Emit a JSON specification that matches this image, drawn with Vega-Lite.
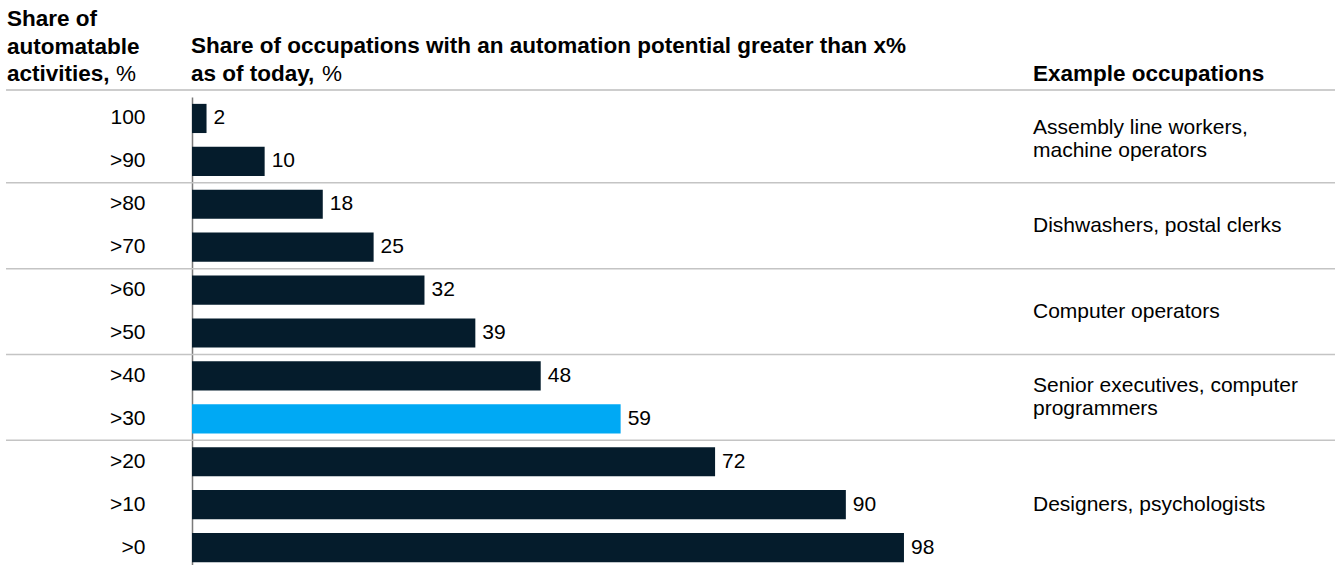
{
  "$schema": "https://vega.github.io/schema/vega-lite/v6.json",
  "autosize": {"type": "none"},
  "padding": {"left": 192, "top": 97, "right": 0, "bottom": 0},
  "width": 1143,
  "height": 472,
  "background": "white",
  "config": {
    "view": {"stroke": null},
    "font": "Liberation Sans",
    "text": {"font": "Liberation Sans", "color": "#000000"},
    "axisY": {"ticks": false, "labelPadding": 47, "labelFontSize": 21, "labelColor": "#000000", "labelFont": "Liberation Sans",
              "domainColor": "#7a7a7a", "domainWidth": 1.5, "grid": false, "labelAlign": "right"}
  },
  "datasets": {
    "bars": [
      {"cat": "100", "value": 2},
      {"cat": ">90", "value": 10},
      {"cat": ">80", "value": 18},
      {"cat": ">70", "value": 25},
      {"cat": ">60", "value": 32},
      {"cat": ">50", "value": 39},
      {"cat": ">40", "value": 48},
      {"cat": ">30", "value": 59},
      {"cat": ">20", "value": 72},
      {"cat": ">10", "value": 90},
      {"cat": ">0", "value": 98}
    ],
    "occupations": [
      {"cat": ">90", "label": "Assembly line workers,\nmachine operators"},
      {"cat": ">70", "label": "Dishwashers, postal clerks"},
      {"cat": ">50", "label": "Computer operators"},
      {"cat": ">30", "label": "Senior executives, computer\nprogrammers"},
      {"cat": ">10", "label": "Designers, psychologists"}
    ],
    "separators": [
      {"cat": ">80"},
      {"cat": ">60"},
      {"cat": ">40"},
      {"cat": ">20"}
    ]
  },
  "layer": [
    {
      "data": {"name": "bars"},
      "mark": {"type": "bar"},
      "encoding": {
        "y": {"field": "cat", "type": "nominal", "title": null,
              "scale": {"domain": ["100", ">90", ">80", ">70", ">60", ">50", ">40", ">30", ">20", ">10", ">0"], "paddingInner": 0.32, "paddingOuter": 0.16}},
        "x": {"field": "value", "type": "quantitative", "scale": {"domain": [0, 157.33], "nice": false}, "axis": null},
        "color": {"condition": {"test": "datum.cat === '>30'", "value": "#00a9f4"}, "value": "#051c2c"}
      }
    },
    {
      "data": {"name": "separators"},
      "mark": {"type": "rule", "color": "#c4c4c4", "strokeWidth": 1.5},
      "encoding": {
        "y": {"field": "cat", "type": "nominal", "bandPosition": -0.2353, "title": null,
              "scale": {"domain": ["100", ">90", ">80", ">70", ">60", ">50", ">40", ">30", ">20", ">10", ">0"], "paddingInner": 0.32, "paddingOuter": 0.16}},
        "x": {"datum": -25.6, "type": "quantitative", "scale": {"domain": [0, 157.33], "nice": false}, "axis": null},
        "x2": {"datum": 157.33}
      }
    },
    {
      "data": {"values": [{"cat": "100"}]},
      "mark": {"type": "rule", "color": "#bdbdbd", "strokeWidth": 1.5},
      "encoding": {
        "y": {"field": "cat", "type": "nominal", "bandPosition": -0.475, "title": null,
              "scale": {"domain": ["100", ">90", ">80", ">70", ">60", ">50", ">40", ">30", ">20", ">10", ">0"], "paddingInner": 0.32, "paddingOuter": 0.16}},
        "x": {"datum": -25.6, "type": "quantitative", "scale": {"domain": [0, 157.33], "nice": false}, "axis": null},
        "x2": {"datum": 157.33}
      }
    },
    {
      "data": {"name": "bars"},
      "mark": {"type": "text", "align": "left", "baseline": "middle", "dx": 7, "fontSize": 21},
      "encoding": {
        "y": {"field": "cat", "type": "nominal", "title": null,
              "scale": {"domain": ["100", ">90", ">80", ">70", ">60", ">50", ">40", ">30", ">20", ">10", ">0"], "paddingInner": 0.32, "paddingOuter": 0.16}},
        "x": {"field": "value", "type": "quantitative", "scale": {"domain": [0, 157.33], "nice": false}, "axis": null},
        "text": {"field": "value", "type": "quantitative"}
      }
    },
    {
      "data": {"name": "occupations"},
      "transform": [{"filter": "datum.cat === '>90' || datum.cat === '>30'"}],
      "mark": {"type": "text", "align": "left", "baseline": "middle", "fontSize": 21, "lineBreak": "\n", "lineHeight": 23, "dy": -11.5},
      "encoding": {
        "y": {"field": "cat", "type": "nominal", "bandPosition": -0.2353, "title": null,
              "scale": {"domain": ["100", ">90", ">80", ">70", ">60", ">50", ">40", ">30", ">20", ">10", ">0"], "paddingInner": 0.32, "paddingOuter": 0.16}},
        "x": {"datum": 115.76, "type": "quantitative", "scale": {"domain": [0, 157.33], "nice": false}, "axis": null},
        "text": {"field": "label", "type": "nominal"}
      }
    },
    {
      "data": {"name": "occupations"},
      "transform": [{"filter": "datum.cat === '>70' || datum.cat === '>50'"}],
      "mark": {"type": "text", "align": "left", "baseline": "middle", "fontSize": 21},
      "encoding": {
        "y": {"field": "cat", "type": "nominal", "bandPosition": -0.2353, "title": null,
              "scale": {"domain": ["100", ">90", ">80", ">70", ">60", ">50", ">40", ">30", ">20", ">10", ">0"], "paddingInner": 0.32, "paddingOuter": 0.16}},
        "x": {"datum": 115.76, "type": "quantitative", "scale": {"domain": [0, 157.33], "nice": false}, "axis": null},
        "text": {"field": "label", "type": "nominal"}
      }
    },
    {
      "data": {"name": "occupations"},
      "transform": [{"filter": "datum.cat === '>10'"}],
      "mark": {"type": "text", "align": "left", "baseline": "middle", "fontSize": 21},
      "encoding": {
        "y": {"field": "cat", "type": "nominal", "bandPosition": 0.5, "title": null,
              "scale": {"domain": ["100", ">90", ">80", ">70", ">60", ">50", ">40", ">30", ">20", ">10", ">0"], "paddingInner": 0.32, "paddingOuter": 0.16}},
        "x": {"datum": 115.76, "type": "quantitative", "scale": {"domain": [0, 157.33], "nice": false}, "axis": null},
        "text": {"field": "label", "type": "nominal"}
      }
    },
    {
      "data": {"values": [{}]},
      "mark": {"type": "text", "align": "left", "baseline": "alphabetic", "fontSize": 22.5, "fontWeight": "bold", "lineBreak": "\n", "lineHeight": 27.5,
               "text": "Share of\nautomatable\nactivities,"},
      "encoding": {
        "x": {"datum": -25.46, "type": "quantitative", "scale": {"domain": [0, 157.33], "nice": false}, "axis": null},
        "y": {"value": -71}
      }
    },
    {
      "data": {"values": [{}]},
      "mark": {"type": "text", "align": "left", "baseline": "alphabetic", "fontSize": 22.5, "dx": 109, "text": "%"},
      "encoding": {
        "x": {"datum": -25.46, "type": "quantitative", "scale": {"domain": [0, 157.33], "nice": false}, "axis": null},
        "y": {"value": -16}
      }
    },
    {
      "data": {"values": [{}]},
      "mark": {"type": "text", "align": "left", "baseline": "alphabetic", "fontSize": 22.5, "fontWeight": "bold", "lineBreak": "\n", "lineHeight": 27.5, "dx": -1,
               "text": "Share of occupations with an automation potential greater than x%\nas of today,"},
      "encoding": {
        "x": {"datum": 0, "type": "quantitative", "scale": {"domain": [0, 157.33], "nice": false}, "axis": null},
        "y": {"value": -44}
      }
    },
    {
      "data": {"values": [{}]},
      "mark": {"type": "text", "align": "left", "baseline": "alphabetic", "fontSize": 22.5, "dx": 130, "text": "%"},
      "encoding": {
        "x": {"datum": 0, "type": "quantitative", "scale": {"domain": [0, 157.33], "nice": false}, "axis": null},
        "y": {"value": -16}
      }
    },
    {
      "data": {"values": [{}]},
      "mark": {"type": "text", "align": "left", "baseline": "alphabetic", "fontSize": 22.5, "fontWeight": "bold", "text": "Example occupations"},
      "encoding": {
        "x": {"datum": 115.76, "type": "quantitative", "scale": {"domain": [0, 157.33], "nice": false}, "axis": null},
        "y": {"value": -16}
      }
    }
  ]
}
